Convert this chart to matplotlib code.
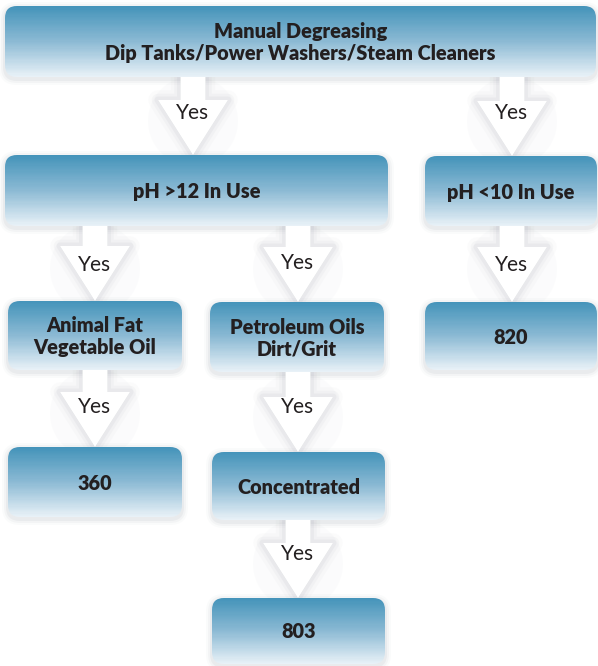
import numpy as np
import matplotlib.pyplot as plt
from matplotlib.colors import LinearSegmentedColormap
from matplotlib.patches import FancyBboxPatch, Polygon

plt.rcParams['font.family'] = ['Lato', 'DejaVu Sans']

# node labels
labels = [
    "Manual Degreasing\nDip Tanks/Power Washers/Steam Cleaners",
    "pH >12 In Use",
    "pH <10 In Use",
    "Animal Fat\nVegetable Oil",
    "Petroleum Oils\nDirt/Grit",
    "820",
    "360",
    "Concentrated",
    "803",
]
# edges (from, to) and their label
edges = [(0, 1), (0, 2), (1, 3), (1, 4), (2, 5), (3, 6), (4, 7), (7, 8)]
edge_label = "Yes"

# layout in pixels: x0, y0, x1, y1 (y down)
boxes = [
    (5, 6, 596, 77),
    (5, 155, 388, 226),
    (425, 156, 597, 226),
    (8, 301, 182, 370),
    (210, 302, 384, 372),
    (425, 302, 597, 370),
    (8, 447, 182, 517),
    (212, 452, 385, 520),
    (212, 598, 385, 664),
]
arrow_x = [193, 512, 95, 298, 512, 95, 298, 298]
label_y = [113, 113, 265, 263, 265, 407, 407, 554]

W, H = 598, 666
fig = plt.figure(figsize=(W / 100, H / 100), dpi=100)
ax = fig.add_axes([0, 0, 1, 1])
ax.set_xlim(0, W)
ax.set_ylim(H, 0)
ax.axis('off')

# 0 = top of box, 1 = bottom
box_cmap = LinearSegmentedColormap.from_list('box', ['#4594ba', '#8cbad4', '#e8f1f7'])


def draw_box(x0, y0, x1, y1, text):
    r = 12
    # soft shadow
    for k, a in [(6, 0.03), (4, 0.05), (2, 0.08)]:
        sh = FancyBboxPatch((x0 + r - k, y0 + r - k + 2), x1 - x0 - 2 * r + 2 * k,
                            y1 - y0 - 2 * r + 2 * k,
                            boxstyle=f"round,pad={r},rounding_size={r + k}",
                            fc='#7a8490', ec='none', alpha=a, zorder=2)
        ax.add_patch(sh)
    p = FancyBboxPatch((x0 + r, y0 + r), x1 - x0 - 2 * r, y1 - y0 - 2 * r,
                       boxstyle=f"round,pad={r},rounding_size={r}",
                       fc='none', ec='none', zorder=3)
    ax.add_patch(p)
    ys = np.linspace(y0, y1, 61)
    C = np.linspace(0, 1, 60)[:, None]
    mesh = ax.pcolormesh([x0, x1], ys, C, cmap=box_cmap, vmin=0, vmax=1,
                         shading='flat', zorder=3, antialiased=False)
    mesh.set_clip_path(p)
    ax.text((x0 + x1) / 2, (y0 + y1) / 2 + 1, text, ha='center', va='center',
            fontsize=14.3, fontweight='heavy', color='#231f20', zorder=5,
            linespacing=1.15)


def draw_arrow(cx, y0, y1, ty):
    head = 55
    sw, hw = 12.5, 35
    yh = y1 - head
    pts = [(cx - sw, y0), (cx + sw, y0), (cx + sw, yh), (cx + hw, yh),
           (cx, y1), (cx - hw, yh), (cx - sw, yh)]
    # faint glow behind
    glow = plt.Circle((cx, (y0 + y1) / 2 + 5), 45, fc='#e4e6eb', ec='none',
                      alpha=0.12, zorder=1)
    ax.add_patch(glow)
    for lw, a in [(14, 0.04), (9, 0.06), (5, 0.09)]:
        ax.add_patch(Polygon(pts, closed=True, fc='#9aa0ab', ec='#9aa0ab',
                             lw=lw, alpha=a, joinstyle='round', zorder=2))
    ax.add_patch(Polygon(pts, closed=True, fc='white', ec='none', zorder=4))
    ax.text(cx, ty, edge_label, ha='center', va='center', fontsize=15,
            color='#231f20', zorder=5)


for (a, b), cx, ty in zip(edges, arrow_x, label_y):
    draw_arrow(cx, boxes[a][3], boxes[b][1], ty)

for (x0, y0, x1, y1), t in zip(boxes, labels):
    draw_box(x0, y0, x1, y1, t)

ax.set_xlim(0, W)
ax.set_ylim(H, 0)
fig.savefig('out.png', dpi=100, facecolor='white')
